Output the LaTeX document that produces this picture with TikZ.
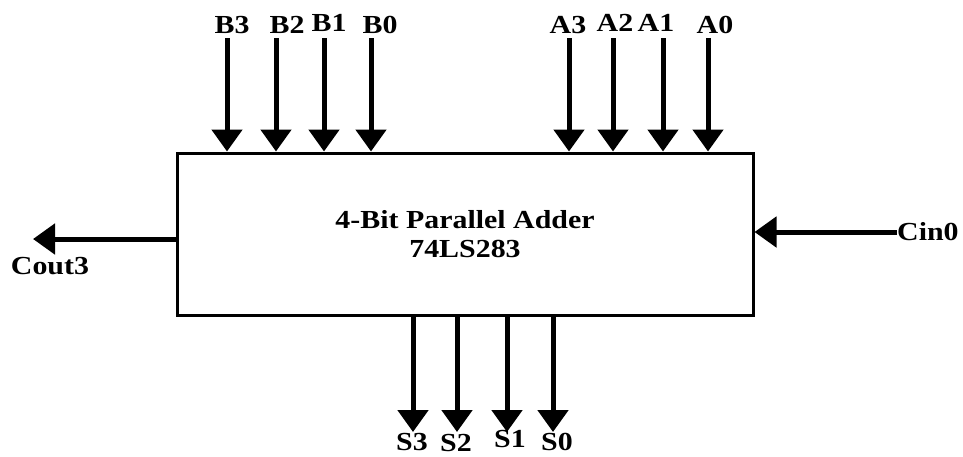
\documentclass[tikz,border=0pt]{standalone}
\usepackage{fontspec}
\setmainfont{Liberation Serif}
\newfontfamily\pinfont[FakeStretch=1.15]{Liberation Serif}
\usetikzlibrary{arrows.meta}
\tikzset{
  sig/.style={line width=5pt,-{Triangle[width=30pt,length=22pt]}},
  pin/.style={font=\pinfont\fontsize{26}{30}\selectfont\bfseries,inner sep=0pt,anchor=base}
}
\begin{document}
\begin{tikzpicture}[x=1pt,y=-1pt]
    \useasboundingbox (0,0) rectangle (963,456);
    \node[draw,line width=3pt,minimum width=576pt,minimum height=162pt,align=center,
          font=\pinfont\fontsize{26}{29}\selectfont\bfseries] (adder) at (465,234)
          {4-Bit Parallel Adder\\74LS283};
    % B inputs
    \node[pin] (b3) at (232,33) {B3};
    \node[pin] (b2) at (287,33) {B2};
    \node[pin] (b1) at (329,31) {B1};
    \node[pin] (b0) at (380,33) {B0};
    \coordinate (b3in) at (227,38);
    \coordinate (b2in) at (276,38);
    \coordinate (b1in) at (324,38);
    \coordinate (b0in) at (371,38);
    \draw[sig] (b3in) -- (b3in |- adder.north);
    \draw[sig] (b2in) -- (b2in |- adder.north);
    \draw[sig] (b1in) -- (b1in |- adder.north);
    \draw[sig] (b0in) -- (b0in |- adder.north);
    % A inputs
    \node[pin] (a3) at (568,33) {A3};
    \node[pin] (a2) at (615,31) {A2};
    \node[pin] (a1) at (656,31) {A1};
    \node[pin] (a0) at (715,33) {A0};
    \coordinate (a3in) at (569,38);
    \coordinate (a2in) at (613,38);
    \coordinate (a1in) at (663,38);
    \coordinate (a0in) at (708,38);
    \draw[sig] (a3in) -- (a3in |- adder.north);
    \draw[sig] (a2in) -- (a2in |- adder.north);
    \draw[sig] (a1in) -- (a1in |- adder.north);
    \draw[sig] (a0in) -- (a0in |- adder.north);
    % carries
    \coordinate (coutend) at (33,239);
    \node[pin] (cout) at (50,274) {Cout3};
    \draw[sig] (adder.west |- coutend) -- (coutend);
    \node[pin,anchor=base west] (cin) at (897,240) {Cin0};
    \draw[sig] (cin.west |- 0,232) -- (adder.east |- 0,232);
    % sums
    \node[pin] (s3) at (412,450) {S3};
    \node[pin] (s2) at (456,451) {S2};
    \node[pin] (s1) at (510,447) {S1};
    \node[pin] (s0) at (557,450) {S0};
    \coordinate (s3out) at (413,432);
    \coordinate (s2out) at (457,432);
    \coordinate (s1out) at (507,432);
    \coordinate (s0out) at (553,432);
    \draw[sig] (s3out |- adder.south) -- (s3out);
    \draw[sig] (s2out |- adder.south) -- (s2out);
    \draw[sig] (s1out |- adder.south) -- (s1out);
    \draw[sig] (s0out |- adder.south) -- (s0out);
\end{tikzpicture}
\end{document}
